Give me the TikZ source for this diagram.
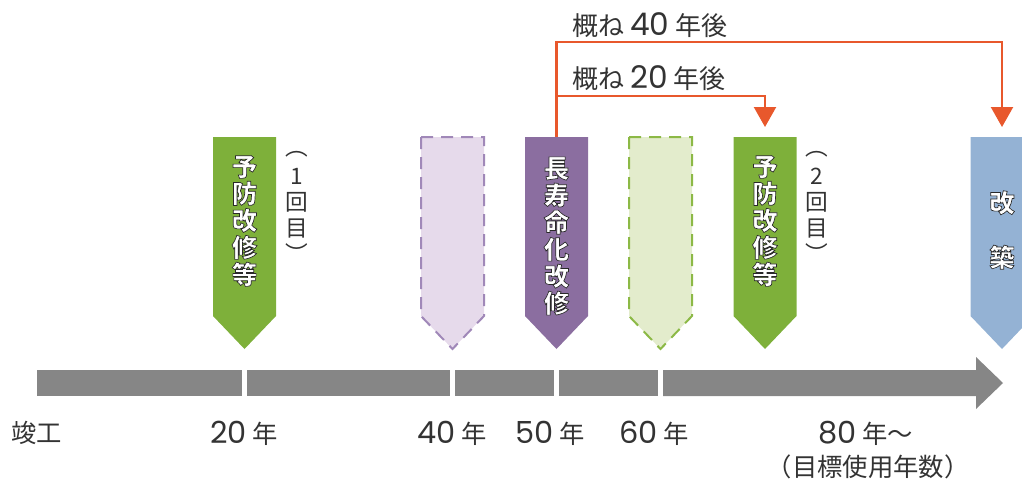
\documentclass[tikz,border=0pt]{standalone}
\usepackage{fontspec}
\setmainfont{Noto Sans CJK JP}
\newfontfamily\numf[Scale=1.2]{Poppins}
\newcommand\dg[1]{{\numf #1}}
\newcommand\olon{\special{pdf:literal direct 2 Tr 0.5 w 0.16 0.16 0.16 RG}}
\usetikzlibrary{arrows.meta}
\definecolor{grn}{RGB}{126,176,58}
\definecolor{prp}{RGB}{139,110,160}
\definecolor{blu}{RGB}{148,178,212}
\definecolor{lprp}{RGB}{230,218,235}
\definecolor{lprpd}{RGB}{160,136,184}
\definecolor{lgrn}{RGB}{227,236,204}
\definecolor{lgrnd}{RGB}{140,185,70}
\definecolor{barg}{RGB}{134,134,134}
\definecolor{orng}{RGB}{232,88,44}
\definecolor{txt}{RGB}{51,51,51}
\begin{document}
\begin{tikzpicture}[x=0.75pt,y=-0.75pt,
  pent/.pic={\path[pic actions] (-31.5,137) -- (31.5,137) -- (31.5,316) -- (0,349) -- (-31.5,316) -- cycle;},
  solidpent/.style={draw=none},
  dashpent/.style={line width=1.5pt, dash pattern=on 9pt off 6pt, line join=miter},
  bar/.style={fill=barg, draw=none},
  lbl/.style={font=\fontsize{19}{22}\selectfont, text=txt, inner sep=0pt},
  toplbl/.style={font=\fontsize{19.5}{20}\selectfont, text=txt, inner sep=0pt, anchor=west},
  vtext/.style={align=center, font=\fontsize{19}{20.25}\selectfont\bfseries, text=white, inner sep=0pt},
  vnote/.style={align=center, font=\fontsize{17}{19.5}\selectfont, text=txt, inner sep=0pt},
  orangeline/.style={draw=orng, line width=1.7pt, -{Triangle[width=16.5pt,length=15pt]}}
]
\useasboundingbox (0,0) rectangle (1022,479);

% timeline bar
\path[bar] (37,370) rectangle (242,396);
\path[bar] (247,370) rectangle (450,396);
\path[bar] (455,370) rectangle (554,396);
\path[bar] (559,370) rectangle (658,396);
\path[bar] (663,370) -- (976,370) -- (976,357) -- (1003,383) -- (976,409) -- (976,396) -- (663,396) -- cycle;

% pentagons
\pic[fill=grn, solidpent] at (244.5,0) {pent};
\pic[fill=lprp, draw=lprpd, dashpent] at (452.5,0) {pent};
\pic[fill=prp, solidpent] at (556.5,0) {pent};
\pic[fill=lgrn, draw=lgrnd, dashpent] at (660.5,0) {pent};
\pic[fill=grn, solidpent] at (765,0) {pent};
\pic[fill=blu, solidpent] at (1002,0) {pent};

\coordinate (p3top) at (556.5,137);
\coordinate (p5top) at (765,137);
\coordinate (p6top) at (1002,137);
\coordinate (j40) at (556.5,42);
\coordinate (j20) at (556.5,96);

% pentagon texts
\node[vtext] (v1) at (244.5,221) {\olon 予\\\olon 防\\\olon 改\\\olon 修\\\olon 等};
\node[vtext] (v3) at (556.5,236) {\olon 長\\\olon 寿\\\olon 命\\\olon 化\\\olon 改\\\olon 修};
\node[vtext] (v5) at (765,221) {\olon 予\\\olon 防\\\olon 改\\\olon 修\\\olon 等};
\node[vtext, font=\fontsize{19}{41}\selectfont\bfseries] (v6) at (1002,230) {\olon 改\\\olon 築};
\node[vnote] (n1) at (297,207) {︵\\[2pt]1\\回\\目\\︶};
\node[vnote] (n2) at (817,207) {︵\\[2pt]2\\回\\目\\︶};

% orange connectors
\draw[orangeline, shorten >=7.5pt] (p3top) -- (j40) -| (p6top);
\draw[orangeline, shorten >=7.5pt] (j20) -| (p5top);
\node[toplbl] (l40) at (572,25) {概ね \dg{40} 年後};
\node[toplbl] (l20) at (572,78) {概ね \dg{20} 年後};

% timeline labels
\node[lbl] (t0) at (37,433) {竣工};
\node[lbl] (t20) at (244,433) {\dg{20} 年};
\node[lbl] (t40) at (452,433) {\dg{40} 年};
\node[lbl] (t50) at (550,433) {\dg{50} 年};
\node[lbl] (t60) at (654,433) {\dg{60} 年};
\node[lbl] (t80) at (866,433) {\dg{80} 年～};
\node[lbl] (t80b) at (868,467) {（目標使用年数）};
\end{tikzpicture}
\end{document}
